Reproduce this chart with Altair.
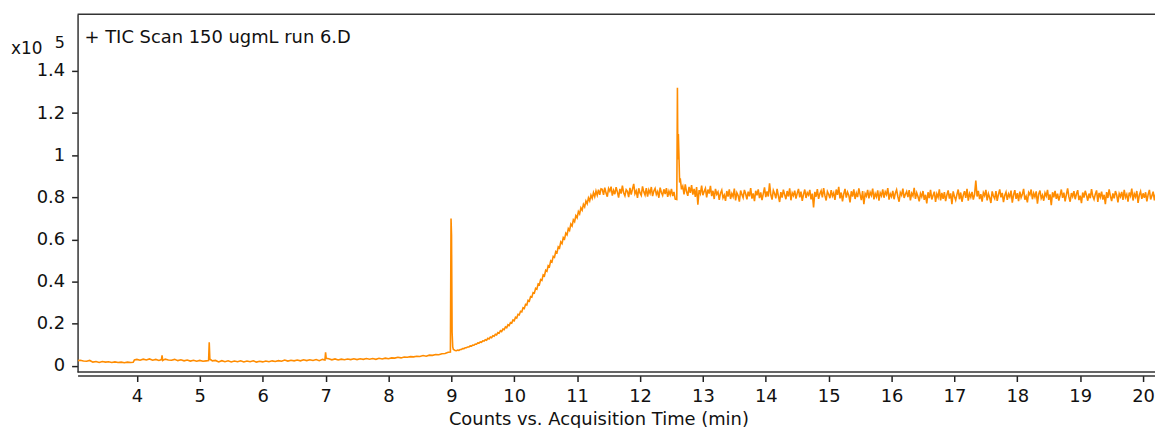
import altair as alt
import pandas as pd

FONT = "DejaVu Sans"

# ---------------- data ----------------
base_t = [3.06, 3.10, 3.15, 3.20, 3.25, 3.30, 3.35, 3.40, 3.45, 3.50,
          3.55, 3.60, 3.65, 3.70, 3.75, 3.80, 3.85, 3.90, 3.94, 3.96,
          4.00, 4.05, 4.10, 4.15, 4.20, 4.25, 4.30, 4.35, 4.39, 4.40,
          4.41, 4.45, 4.50, 4.55, 4.60, 4.65, 4.70, 4.75, 4.80, 4.85,
          4.90, 4.95, 5.00, 5.05, 5.10, 5.14, 5.15, 5.16, 5.18, 5.20,
          5.25, 5.30, 5.35, 5.40, 5.45, 5.50, 5.55, 5.60, 5.65, 5.70,
          5.75, 5.80, 5.85, 5.90, 5.95, 6.00, 6.05, 6.10, 6.15, 6.20,
          6.25, 6.30, 6.35, 6.40, 6.45, 6.50, 6.55, 6.60, 6.65, 6.70,
          6.75, 6.80, 6.85, 6.90, 6.95, 6.99, 7.00, 7.01, 7.05, 7.10,
          7.15, 7.20, 7.25, 7.30, 7.35, 7.40, 7.45, 7.50, 7.55, 7.60,
          7.65, 7.70, 7.75, 7.80, 7.85, 7.90, 7.95, 8.00, 8.05, 8.10,
          8.15, 8.20, 8.25, 8.30, 8.35, 8.40, 8.45, 8.50, 8.55, 8.60,
          8.65, 8.70, 8.75, 8.80, 8.85, 8.90, 8.95]
base_v = [0.025, 0.027, 0.023, 0.022, 0.026, 0.018, 0.021, 0.016, 0.021, 0.018,
          0.020, 0.016, 0.019, 0.016, 0.018, 0.015, 0.018, 0.016, 0.017, 0.028,
          0.031, 0.027, 0.032, 0.028, 0.033, 0.027, 0.031, 0.026, 0.030, 0.050,
          0.026, 0.032, 0.028, 0.027, 0.031, 0.025, 0.029, 0.024, 0.028, 0.023,
          0.027, 0.022, 0.026, 0.022, 0.024, 0.025, 0.112, 0.032, 0.028, 0.024,
          0.026, 0.019, 0.025, 0.020, 0.024, 0.019, 0.023, 0.020, 0.024, 0.019,
          0.023, 0.020, 0.024, 0.018, 0.022, 0.019, 0.023, 0.020, 0.024, 0.021,
          0.025, 0.022, 0.028, 0.023, 0.027, 0.024, 0.028, 0.024, 0.029, 0.025,
          0.029, 0.026, 0.030, 0.025, 0.031, 0.028, 0.065, 0.036, 0.034, 0.029,
          0.033, 0.028, 0.032, 0.029, 0.033, 0.030, 0.034, 0.030, 0.034, 0.031,
          0.035, 0.032, 0.035, 0.031, 0.036, 0.033, 0.037, 0.034, 0.038, 0.037,
          0.041, 0.038, 0.042, 0.041, 0.044, 0.043, 0.046, 0.045, 0.049, 0.046,
          0.051, 0.050, 0.054, 0.053, 0.058, 0.059, 0.065]

spike9_t = [8.985, 8.995, 9.003, 9.012, 9.022, 9.032]
spike9_v = [0.066, 0.700, 0.620, 0.160, 0.090, 0.078]

rise_t = [9.04, 9.06, 9.08, 9.10, 9.12, 9.14, 9.16, 9.18, 9.20, 9.22,
          9.24, 9.26, 9.28, 9.30, 9.32, 9.34, 9.36, 9.38, 9.40, 9.42,
          9.44, 9.46, 9.48, 9.50, 9.52, 9.54, 9.56, 9.58, 9.60, 9.62,
          9.64, 9.66, 9.68, 9.70, 9.72, 9.74, 9.76, 9.78, 9.80, 9.82,
          9.84, 9.86, 9.88, 9.90, 9.92, 9.94, 9.96, 9.98, 10.00, 10.02,
          10.04, 10.06, 10.08, 10.10, 10.12, 10.14, 10.16, 10.18, 10.20, 10.22,
          10.24, 10.26, 10.28, 10.30, 10.32, 10.34, 10.36, 10.38, 10.40, 10.42,
          10.44, 10.46, 10.48, 10.50, 10.52, 10.54, 10.56, 10.58, 10.60, 10.62,
          10.64, 10.66, 10.68, 10.70, 10.72, 10.74, 10.76, 10.78, 10.80, 10.82,
          10.84, 10.86, 10.88, 10.90, 10.92, 10.94, 10.96, 10.98, 11.00, 11.02,
          11.04, 11.06, 11.08, 11.10, 11.12, 11.14, 11.16, 11.18, 11.20, 11.22,
          11.24, 11.26, 11.28, 11.30, 11.32, 11.34, 11.36, 11.38]
rise_v = [0.077, 0.073, 0.072, 0.075, 0.074, 0.078, 0.078, 0.082, 0.082, 0.086,
          0.086, 0.090, 0.090, 0.095, 0.094, 0.099, 0.098, 0.104, 0.103, 0.109,
          0.108, 0.114, 0.112, 0.119, 0.118, 0.124, 0.122, 0.131, 0.128, 0.137,
          0.134, 0.143, 0.141, 0.150, 0.147, 0.158, 0.155, 0.167, 0.163, 0.175,
          0.172, 0.185, 0.181, 0.195, 0.191, 0.206, 0.203, 0.218, 0.214, 0.231,
          0.227, 0.245, 0.242, 0.259, 0.256, 0.276, 0.272, 0.292, 0.289, 0.311,
          0.307, 0.329, 0.326, 0.348, 0.345, 0.368, 0.364, 0.389, 0.385, 0.410,
          0.406, 0.432, 0.427, 0.454, 0.449, 0.476, 0.471, 0.499, 0.493, 0.520,
          0.515, 0.543, 0.537, 0.565, 0.559, 0.588, 0.580, 0.609, 0.602, 0.630,
          0.622, 0.652, 0.643, 0.673, 0.664, 0.693, 0.684, 0.713, 0.703, 0.732,
          0.721, 0.750, 0.739, 0.767, 0.755, 0.783, 0.770, 0.797, 0.783, 0.810,
          0.795, 0.822, 0.803, 0.830, 0.810, 0.836, 0.812, 0.840]

plat1_t = [11.40, 11.42, 11.44, 11.46, 11.48, 11.50, 11.52, 11.54, 11.56, 11.58,
           11.60, 11.62, 11.64, 11.66, 11.68, 11.70, 11.72, 11.74, 11.76, 11.78,
           11.80, 11.82, 11.84, 11.86, 11.88, 11.90, 11.92, 11.94, 11.96, 11.98,
           12.00, 12.02, 12.04, 12.06, 12.08, 12.10, 12.12, 12.14, 12.16, 12.18,
           12.20, 12.22, 12.24, 12.26, 12.28, 12.30, 12.32, 12.34, 12.36, 12.38,
           12.40, 12.42, 12.44, 12.46, 12.48, 12.50, 12.52, 12.54, 12.56]
plat1_v = [0.838, 0.812, 0.846, 0.820, 0.803, 0.842, 0.829, 0.851, 0.808, 0.833,
           0.815, 0.848, 0.826, 0.799, 0.840, 0.818, 0.856, 0.822, 0.807, 0.836,
           0.828, 0.801, 0.845, 0.813, 0.839, 0.864, 0.817, 0.831, 0.797, 0.843,
           0.821, 0.809, 0.852, 0.826, 0.811, 0.844, 0.803, 0.835, 0.819, 0.849,
           0.806, 0.830, 0.842, 0.814, 0.827, 0.798, 0.846, 0.823, 0.809, 0.838,
           0.816, 0.844, 0.802, 0.829, 0.812, 0.840, 0.806, 0.826, 0.792]

spike12_t = [12.585, 12.595, 12.602, 12.61, 12.62, 12.63]
spike12_v = [0.790, 1.320, 0.980, 1.100, 0.990, 0.870]

plat2_t = [12.64, 12.66, 12.68, 12.70, 12.72, 12.74, 12.76, 12.78, 12.80, 12.82,
           12.84, 12.86, 12.88, 12.90, 12.92, 12.94, 12.96, 12.98, 13.00, 13.02,
           13.04, 13.06, 13.08, 13.10, 13.12, 13.14, 13.16, 13.18, 13.20, 13.22,
           13.24, 13.26, 13.28, 13.30, 13.32, 13.34, 13.36, 13.38, 13.40, 13.42,
           13.44, 13.46, 13.48, 13.50, 13.52, 13.54, 13.56, 13.58, 13.60, 13.62,
           13.64, 13.66, 13.68, 13.70, 13.72, 13.74, 13.76, 13.78, 13.80, 13.82,
           13.84, 13.86, 13.88, 13.90, 13.92, 13.94, 13.96, 13.98, 14.00, 14.02,
           14.04, 14.06, 14.08, 14.10, 14.12, 14.14, 14.16, 14.18, 14.20, 14.22,
           14.24, 14.26, 14.28, 14.30, 14.32, 14.34, 14.36, 14.38, 14.40, 14.42,
           14.44, 14.46, 14.48, 14.50, 14.52, 14.54, 14.56, 14.58, 14.60, 14.62,
           14.64, 14.66, 14.68, 14.70, 14.72, 14.74, 14.76, 14.78, 14.80, 14.82,
           14.84, 14.86, 14.88, 14.90, 14.92, 14.94, 14.96, 14.98, 15.00, 15.02,
           15.04, 15.06, 15.08, 15.10, 15.12, 15.14, 15.16, 15.18, 15.20, 15.22,
           15.24, 15.26, 15.28, 15.30, 15.32, 15.34, 15.36, 15.38, 15.40, 15.42,
           15.44, 15.46, 15.48, 15.50, 15.52, 15.54, 15.56, 15.58, 15.60, 15.62,
           15.64, 15.66, 15.68, 15.70, 15.72, 15.74, 15.76, 15.78, 15.80, 15.82,
           15.84, 15.86, 15.88, 15.90, 15.92, 15.94, 15.96, 15.98, 16.00, 16.02,
           16.04, 16.06, 16.08, 16.10, 16.12, 16.14, 16.16, 16.18, 16.20, 16.22,
           16.24, 16.26, 16.28, 16.30, 16.32, 16.34, 16.36, 16.38, 16.40, 16.42]
plat2_v = [0.890, 0.838, 0.853, 0.814, 0.862, 0.826, 0.807, 0.850, 0.821, 0.858,
           0.813, 0.840, 0.802, 0.849, 0.765, 0.834, 0.818, 0.856, 0.810, 0.828,
           0.843, 0.800, 0.837, 0.818, 0.854, 0.806, 0.831, 0.792, 0.840, 0.815,
           0.826, 0.788, 0.820, 0.834, 0.797, 0.811, 0.783, 0.830, 0.804, 0.838,
           0.792, 0.818, 0.803, 0.841, 0.785, 0.822, 0.809, 0.780, 0.832, 0.814,
           0.798, 0.835, 0.817, 0.790, 0.827, 0.805, 0.844, 0.794, 0.819, 0.782,
           0.831, 0.810, 0.838, 0.796, 0.823, 0.787, 0.816, 0.847, 0.801, 0.828,
           0.804, 0.866, 0.812, 0.789, 0.833, 0.818, 0.795, 0.840, 0.807, 0.778,
           0.825, 0.799, 0.836, 0.813, 0.791, 0.830, 0.804, 0.843, 0.786, 0.821,
           0.808, 0.832, 0.794, 0.819, 0.840, 0.800, 0.827, 0.783, 0.814, 0.837,
           0.797, 0.822, 0.811, 0.835, 0.790, 0.818, 0.752, 0.826, 0.803, 0.839,
           0.793, 0.817, 0.831, 0.800, 0.844, 0.809, 0.785, 0.828, 0.815, 0.796,
           0.834, 0.806, 0.821, 0.788, 0.837, 0.812, 0.850, 0.795, 0.823, 0.781,
           0.816, 0.840, 0.799, 0.825, 0.810, 0.776, 0.829, 0.804, 0.838, 0.792,
           0.820, 0.801, 0.842, 0.813, 0.787, 0.830, 0.768, 0.818, 0.806, 0.835,
           0.795, 0.824, 0.809, 0.841, 0.790, 0.818, 0.802, 0.833, 0.784, 0.821,
           0.807, 0.838, 0.798, 0.826, 0.813, 0.844, 0.789, 0.817, 0.803, 0.831,
           0.791, 0.820, 0.836, 0.804, 0.779, 0.823, 0.810, 0.841, 0.797, 0.815,
           0.828, 0.801, 0.834, 0.786, 0.819, 0.807, 0.845, 0.793, 0.822, 0.804]

plat3_t = [16.44, 16.46, 16.48, 16.50, 16.52, 16.54, 16.56, 16.58, 16.60, 16.62,
           16.64, 16.66, 16.68, 16.70, 16.72, 16.74, 16.76, 16.78, 16.80, 16.82,
           16.84, 16.86, 16.88, 16.90, 16.92, 16.94, 16.96, 16.98, 17.00, 17.02,
           17.04, 17.06, 17.08, 17.10, 17.12, 17.14, 17.16, 17.18, 17.20, 17.22,
           17.24, 17.26, 17.28, 17.30, 17.32, 17.34, 17.36, 17.38, 17.40, 17.42,
           17.44, 17.46, 17.48, 17.50, 17.52, 17.54, 17.56, 17.58, 17.60, 17.62,
           17.64, 17.66, 17.68, 17.70, 17.72, 17.74, 17.76, 17.78, 17.80, 17.82,
           17.84, 17.86, 17.88, 17.90, 17.92, 17.94, 17.96, 17.98, 18.00, 18.02,
           18.04, 18.06, 18.08, 18.10, 18.12, 18.14, 18.16, 18.18, 18.20, 18.22,
           18.24, 18.26, 18.28, 18.30, 18.32, 18.34, 18.36, 18.38, 18.40, 18.42,
           18.44, 18.46, 18.48, 18.50, 18.52, 18.54, 18.56, 18.58, 18.60, 18.62,
           18.64, 18.66, 18.68, 18.70, 18.72, 18.74, 18.76, 18.78, 18.80, 18.82,
           18.84, 18.86, 18.88, 18.90, 18.92, 18.94, 18.96, 18.98, 19.00, 19.02,
           19.04, 19.06, 19.08, 19.10, 19.12, 19.14, 19.16, 19.18, 19.20, 19.22,
           19.24, 19.26, 19.28, 19.30, 19.32, 19.34, 19.36, 19.38, 19.40, 19.42,
           19.44, 19.46, 19.48, 19.50, 19.52, 19.54, 19.56, 19.58, 19.60, 19.62,
           19.64, 19.66, 19.68, 19.70, 19.72, 19.74, 19.76, 19.78, 19.80, 19.82,
           19.84, 19.86, 19.88, 19.90, 19.92, 19.94, 19.96, 19.98, 20.00, 20.02,
           20.04, 20.06, 20.08, 20.10, 20.12, 20.14, 20.16, 20.18, 20.20]
plat3_v = [0.781, 0.818, 0.803, 0.830, 0.788, 0.812, 0.771, 0.824, 0.796, 0.835,
           0.790, 0.809, 0.827, 0.778, 0.816, 0.800, 0.838, 0.785, 0.821, 0.793,
           0.825, 0.782, 0.811, 0.833, 0.794, 0.819, 0.768, 0.828, 0.804, 0.787,
           0.814, 0.837, 0.791, 0.823, 0.779, 0.810, 0.829, 0.797, 0.840, 0.784,
           0.818, 0.801, 0.826, 0.789, 0.813, 0.880, 0.804, 0.831, 0.792, 0.815,
           0.780, 0.822, 0.808, 0.835, 0.786, 0.817, 0.799, 0.773, 0.828, 0.806,
           0.794, 0.830, 0.783, 0.814, 0.838, 0.800, 0.821, 0.777, 0.809, 0.825,
           0.788, 0.816, 0.802, 0.832, 0.775, 0.811, 0.834, 0.793, 0.820, 0.782,
           0.827, 0.798, 0.814, 0.840, 0.789, 0.805, 0.776, 0.823, 0.812, 0.837,
           0.791, 0.819, 0.801, 0.828, 0.770, 0.815, 0.832, 0.795, 0.810, 0.784,
           0.821, 0.806, 0.835, 0.788, 0.814, 0.763, 0.824, 0.800, 0.831, 0.793,
           0.817, 0.785, 0.809, 0.837, 0.798, 0.822, 0.781, 0.813, 0.842, 0.802,
           0.779, 0.820, 0.804, 0.829, 0.791, 0.816, 0.834, 0.787, 0.808, 0.772,
           0.823, 0.799, 0.831, 0.810, 0.784, 0.818, 0.796, 0.839, 0.805, 0.790,
           0.815, 0.833, 0.778, 0.821, 0.801, 0.827, 0.789, 0.812, 0.768, 0.825,
           0.797, 0.838, 0.806, 0.782, 0.819, 0.795, 0.830, 0.811, 0.776, 0.818,
           0.803, 0.826, 0.788, 0.835, 0.800, 0.814, 0.780, 0.823, 0.807, 0.841,
           0.785, 0.817, 0.802, 0.830, 0.774, 0.811, 0.828, 0.793, 0.819, 0.798,
           0.824, 0.781, 0.813, 0.835, 0.790, 0.808, 0.827, 0.786, 0.816]

x_ticks = [4, 5, 6, 7, 8, 9, 10, 11, 12, 13, 14, 15, 16, 17, 18, 19, 20]
y_ticks = [0, 0.2, 0.4, 0.6, 0.8, 1.0, 1.2, 1.4]

trace_label = "+ TIC Scan 150 ugmL run 6.D"
x_title = "Counts vs. Acquisition Time (min)"

# ---------------- build table ----------------
times = base_t + spike9_t + rise_t + plat1_t + spike12_t + plat2_t + plat3_t
values = base_v + spike9_v + rise_v + plat1_v + spike12_v + plat2_v + plat3_v
df = pd.DataFrame({"t": times, "v": values})
df["order"] = range(len(df))

W, H = 1084, 360
xs = alt.Scale(domain=[3.0564, 3.0564 + W / 63.27], nice=False, zero=False)
ys = alt.Scale(domain=[-0.0292, 1.6689], nice=False, zero=False)

line = alt.Chart(df).mark_line(color="#ff8c00", strokeWidth=1.6, clip=True).encode(
    x=alt.X("t:Q", scale=xs,
            axis=alt.Axis(values=x_ticks, offset=3.5, title=x_title, grid=False,
                          tickSize=6, tickWidth=1.5, domainWidth=1.5,
                          labelPadding=6, labelFlush=False, labelOverlap=False,
                          titleX=524, titleY=49, titleBaseline="alphabetic",
                          titleAlign="center", titleFontWeight="normal")),
    y=alt.Y("v:Q", scale=ys,
            axis=alt.Axis(values=y_ticks, format=".1~f", title=None, grid=False,
                          tickSize=6, tickWidth=1.5, domainWidth=1.5,
                          labelPadding=7, labelFlush=False, labelOverlap=False)),
    order="order:Q",
)

one = pd.DataFrame({"a": [0]})
top_rule = alt.Chart(one).mark_rule(color="#333333", strokeWidth=1.6).encode(
    x=alt.value(0), x2=alt.value(W + 5), y=alt.value(0))
bottom_rule = alt.Chart(one).mark_rule(color="#333333", strokeWidth=1.5).encode(
    x=alt.value(0), x2=alt.value(W + 5), y=alt.value(H))

label = alt.Chart(one).mark_text(font=FONT, fontSize=18, color="#111111",
                                 align="left", baseline="alphabetic").encode(
    x=alt.value(7), y=alt.value(29), text=alt.value(trace_label))
x10 = alt.Chart(one).mark_text(font=FONT, fontSize=17, color="#111111",
                               align="left", baseline="alphabetic").encode(
    x=alt.value(-67), y=alt.value(40), text=alt.value("x10"))
exp5 = alt.Chart(one).mark_text(font=FONT, fontSize=16, color="#111111",
                                align="left", baseline="alphabetic").encode(
    x=alt.value(-23), y=alt.value(33.5), text=alt.value("5"))

chart = alt.layer(line, top_rule, bottom_rule, label, x10, exp5).properties(
    width=W, height=H,
    autosize=alt.AutoSizeParams(type="none"),
    padding={"left": 70, "top": 5, "right": 0, "bottom": 55},
).configure_view(strokeWidth=0).configure_axis(
    labelFont=FONT, labelFontSize=18, labelColor="#111111",
    titleFont=FONT, titleFontSize=18, titleColor="#111111",
    domainColor="#333333", tickColor="#222222",
)

chart.save("out.html", embed_options={"renderer": "svg", "actions": False})
